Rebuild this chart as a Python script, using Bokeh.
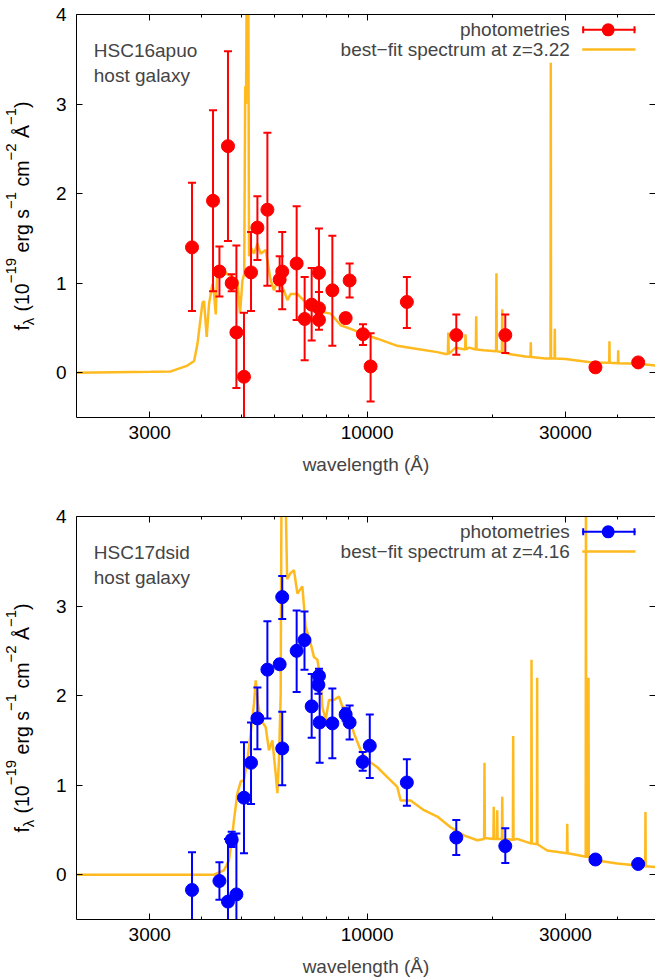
import math
from bokeh.plotting import figure
from bokeh.models import (LogAxis, LinearAxis, FixedTicker, Label, BoxAnnotation,
                          NumeralTickFormatter, ColumnDataSource, CustomLabelingPolicy)
from bokeh.core.properties import value
from bokeh.layouts import column, row
from bokeh.embed import file_html
from bokeh.resources import INLINE

# ---------------- data ----------------
# HSC16apuo: best-fit spectrum (wavelength in Angstrom, f_lambda in 1e-19 cgs)
spec1_w = [2000, 3018, 3371, 3698, 3836, 3908, 4018, 4053, 4114, 4167, 4246, 4284, 4325, 4365,
           4446, 4614, 4743, 4876, 4948, 5013, 5063, 5092, 5115, 5140, 5177, 5200, 5249, 5345,
           5447, 5546, 5702, 5757, 5864, 5971, 6084, 6310, 6430, 6548, 6798, 6924, 7184, 7594,
           8174, 8638, 9128, 9826, 10582, 11820, 13204, 14752, 15444, 15640, 15680, 15720, 16326,
           17210, 17250, 17290, 17572, 18260, 18300, 18340, 19092, 20430, 20470, 20510, 21100,
           21140, 21180, 21924, 24046, 24720, 24760, 24800, 26866, 27620, 27660, 27700, 28240,
           28280, 28320, 30020, 34788, 38230, 38280, 38330, 40130, 40180, 40230, 45024, 49400]
spec1_f = [0.0, 0.01, 0.015, 0.08, 0.13, 0.32, 0.78, 0.80, 0.40, 0.77, 0.99, 0.88, 0.65, 1.18,
           1.16, 1.10, 1.07, 1.03, 0.66, 1.03, 1.10, 3.20, 3.00, 4.80, 4.80, 1.30, 1.40, 1.33,
           1.44, 1.33, 1.37, 1.25, 1.03, 0.92, 1.03, 0.92, 0.81, 0.88, 0.88, 0.84, 0.77, 0.69,
           0.66, 0.53, 0.49, 0.43, 0.38, 0.30, 0.265, 0.23, 0.21, 0.21, 0.45, 0.21, 0.28,
           0.26, 0.43, 0.26, 0.28, 0.26, 0.63, 0.26, 0.25, 0.24, 1.11, 0.24, 0.23,
           0.71, 0.23, 0.21, 0.18, 0.175, 0.34, 0.175, 0.16, 0.16, 3.46, 0.16, 0.16,
           0.49, 0.16, 0.153, 0.115, 0.11, 0.35, 0.11, 0.105, 0.25, 0.105, 0.10, 0.08]

# HSC16apuo: photometry
phot1_w = [3792, 4260, 4414, 4628, 4724, 4849, 5057, 5258, 5447, 5757, 6162, 6250, 6770, 7076,
           7357, 7660, 7660, 7660, 8250, 8880, 9078, 9774, 10196, 12464, 16390, 21500, 35420, 44880]
phot1_f = [1.40, 1.92, 1.13, 2.53, 1.00, 0.45, -0.045, 1.12, 1.62, 1.82, 1.04, 1.13, 1.22, 0.60,
           0.76, 1.115, 0.72, 0.59, 0.92, 0.61, 1.03, 0.43, 0.07, 0.79, 0.42, 0.42, 0.06, 0.115]
phot1_lo = [0.69, 0.91, 0.85, 1.47, 0.91, -0.17, -0.76, 0.69, 1.26, 0.97, 0.91, 0.71, 0.59, 0.14,
            0.36, 0.58, 0.55, 0.48, 0.30, 0.56, 0.84, 0.31, -0.32, 0.50, 0.20, 0.22, 0.04, 0.09]
phot1_hi = [2.12, 2.93, 1.41, 3.59, 1.10, 1.42, 0.67, 1.57, 1.97, 2.68, 1.30, 1.57, 1.86, 1.07,
            1.17, 1.61, 0.90, 0.70, 1.53, 0.66, 1.22, 0.54, 0.44, 1.07, 0.65, 0.65, 0.08, 0.14]

# HSC17dsid: best-fit spectrum
spec2_w = [2000, 4284, 4528, 4654, 4724, 4784, 4876, 4966, 5057, 5153, 5249, 5345, 5396, 5466,
           5546, 5702, 5808, 5918, 6028, 6084, 6138, 6196, 6231, 6334, 6422, 6548, 6670, 6798,
           6987, 7114, 7317, 7452, 7594, 7734, 7806, 7950, 8096, 8322, 8556, 8718, 8962, 9296,
           9648, 10012, 10582, 11184, 11820, 12040, 12726, 13698, 14752, 15880, 17090, 18408,
           19120, 19160, 19200, 20130, 20170, 20210, 20520, 20560, 20600, 21100, 21140, 21180,
           22420, 22460, 22500, 22962, 24732, 24820, 24860, 24900, 25610, 25650, 25690, 27118,
           30250, 30300, 30350, 32016, 33560, 33610, 33660, 34040, 34090, 34140, 35768, 39960,
           46670, 46730, 46790, 49400]
spec2_f = [0.0, 0.0, 0.05, 0.16, 0.38, 0.61, 0.91, 1.04, 1.06, 1.28, 1.58, 1.91, 2.17, 1.91,
           1.73, 1.65, 1.39, 1.50, 1.13, 0.91, 1.28, 2.00, 4.80, 4.80, 3.30, 3.37, 3.40, 3.14,
           3.22, 2.77, 2.58, 2.43, 2.40, 2.17, 1.87, 1.73, 1.95, 1.95, 1.99, 1.88, 1.84, 1.58,
           1.39, 1.28, 1.20, 1.09, 0.98, 0.83, 0.83, 0.72, 0.65, 0.53, 0.44, 0.385,
           0.40, 1.25, 0.41, 0.40, 0.76, 0.40, 0.40, 0.72, 0.40, 0.40, 0.87, 0.40,
           0.39, 1.55, 0.39, 0.40, 0.35, 0.35, 2.40, 0.35, 0.34, 2.20, 0.34, 0.27,
           0.24, 0.57, 0.24, 0.22, 0.20, 4.80, 0.20, 0.20, 2.20, 0.20, 0.16, 0.125,
           0.095, 0.70, 0.095, 0.087]

# HSC17dsid: photometry
phot2_w = [3792, 4414, 4628, 4724, 4849, 5057, 5258, 5447, 5757, 6162, 6250, 6250, 6770, 7070,
           7357, 7636, 7660, 7690, 8250, 8880, 9078, 9760, 10150, 12464, 16390, 21500, 35420, 44880]
phot2_f = [-0.17, -0.07, -0.30, 0.39, -0.22, 0.86, 1.25, 1.745, 2.29, 2.35, 3.10, 1.41, 2.50, 2.62,
           1.88, 2.12, 2.22, 1.70, 1.69, 1.79, 1.70, 1.26, 1.44, 1.03, 0.415, 0.32, 0.17, 0.12]
phot2_lo = [-0.59, -0.28, -1.00, 0.31, -0.90, 0.24, 0.79, 1.40, 1.745, 2.30, 2.855, 1.00, 2.04, 2.29,
            1.53, 2.02, 2.14, 1.25, 1.30, 1.72, 1.51, 1.16, 1.08, 0.77, 0.22, 0.13, 0.15, 0.10]
phot2_hi = [0.25, 0.14, 0.40, 0.48, 0.46, 1.48, 1.70, 2.09, 2.83, 2.40, 3.335, 1.82, 2.95, 2.94,
            2.24, 2.22, 2.30, 2.15, 2.08, 1.86, 1.89, 1.37, 1.79, 1.29, 0.61, 0.52, 0.19, 0.14]

x_major_ticks = [3000, 10000, 30000]
x_minor_ticks = [4000, 5000, 6000, 7000, 8000, 9000, 20000, 40000]
y_major_ticks = [0, 1, 2, 3, 4]

# ---------------- style ----------------
FONT = "Liberation Sans"
FS = "19px"
SPEC_COLOR = "#FFBA20"
FRAME_H = 403
TOP = 14
LABEL_W = 40          # width of the strip that holds the rotated y label
MAIN_W = 655 - LABEL_W
LEFT = 76 - LABEL_W   # left border of the main plot

# widths (em) used for composing the rotated y label
CHAR_W = {'f': 0.278, 'λ': 0.55, ' ': 0.278, '(': 0.333, ')': 0.333, '0': 0.556, '1': 0.556,
          '2': 0.556, '9': 0.556, '−': 0.584, 'e': 0.556, 'r': 0.333, 'g': 0.556, 's': 0.5,
          'c': 0.5, 'm': 0.833, 'Å': 0.667}
MAIN_PX = 19.5
SCRIPT_PX = 15.0
YLABEL_PIECES = [("f", "main"), ("λ", "sub"), (" (10", "main"), ("−19", "sup"),
                 (" erg s", "main"), ("−1", "sup"), (" cm", "main"), ("−2", "sup"),
                 (" Å", "main"), ("−1", "sup"), (")", "main")]
# horizontal centre line (px from the strip's left edge) of each kind of piece
PIECE_X = {"main": 21.5, "sup": 10.5, "sub": 28.0}

HIDE_LABELS = "for (const i of Array.from(indices)) indices.unset(i)"


def style_axis(ax, ticker, labels=True):
    ax.ticker = ticker
    ax.major_tick_in = 6
    ax.major_tick_out = 0
    ax.minor_tick_in = 3
    ax.minor_tick_out = 0
    ax.axis_line_color = "black"
    ax.axis_line_width = 1
    ax.major_tick_line_color = "black"
    ax.minor_tick_line_color = "black"
    ax.major_label_text_font = FONT
    ax.major_label_text_color = "black"
    ax.major_label_text_font_size = FS
    if not labels:
        ax.major_label_text_font_size = "0px"
        ax.major_label_standoff = 0
        ax.major_label_policy = CustomLabelingPolicy(code=HIDE_LABELS)


def ylabel_strip(bottom):
    # strip with the same frame geometry as the main plot; y in frame pixels
    s = figure(frame_width=LABEL_W, frame_height=FRAME_H, title=None,
               x_range=(0, LABEL_W), y_range=(0, FRAME_H),
               output_backend="svg", toolbar_location=None, x_axis_location=None,
               y_axis_location=None, min_border=0, min_border_left=0, min_border_right=0,
               min_border_top=TOP, min_border_bottom=bottom)
    s.outline_line_color = None
    s.xgrid.visible = False
    s.ygrid.visible = False
    s.background_fill_color = "white"
    s.border_fill_color = "white"
    total = 0.0
    for txt, kind in YLABEL_PIECES:
        px = MAIN_PX if kind == "main" else SCRIPT_PX
        total += sum(CHAR_W[c] for c in txt) * px
    pos = (FRAME_H - total) / 2.0
    groups = {}
    for txt, kind in YLABEL_PIECES:
        px = MAIN_PX if kind == "main" else SCRIPT_PX
        lead = len(txt) - len(txt.lstrip(" "))
        pos += lead * CHAR_W[' '] * px
        body = txt.lstrip(" ")
        g = groups.setdefault(kind, dict(x=[], y=[], t=[]))
        g["x"].append(PIECE_X[kind])
        g["y"].append(pos)
        g["t"].append(body)
        pos += sum(CHAR_W[c] for c in body) * px
    for kind, g in groups.items():
        px = MAIN_PX if kind == "main" else SCRIPT_PX
        s.text(x=g["x"], y=g["y"], text=g["t"], angle=math.pi / 2, text_align="left",
               text_baseline="middle", text_font=value(FONT),
               text_font_size=value(f"{px}px"), text_color="black")
    return s


def build(name, zlabel, color, sw, sf, pw, pf, plo, phi, height, bottom):
    p = figure(width=MAIN_W, height=height, x_axis_type="log", x_range=(2000, 49400),
               y_range=(-0.5, 4.0), output_backend="svg", toolbar_location=None, title=None,
               min_border_left=LEFT, min_border_right=0, min_border_top=TOP,
               min_border_bottom=bottom)
    p.outline_line_color = None
    p.xgrid.visible = False
    p.ygrid.visible = False
    p.background_fill_color = "white"
    p.border_fill_color = "white"

    xb = p.below[0]
    yl = p.left[0]
    style_axis(xb, FixedTicker(ticks=x_major_ticks, minor_ticks=x_minor_ticks))
    xb.formatter = NumeralTickFormatter(format="0")
    xb.major_label_standoff = 8
    xb.axis_label = "wavelength (Å)"
    xb.axis_label_text_font = FONT
    xb.axis_label_text_font_size = FS
    xb.axis_label_text_font_style = "normal"
    xb.axis_label_standoff = 12
    style_axis(yl, FixedTicker(ticks=y_major_ticks, minor_ticks=[]))
    yl.major_label_standoff = 10

    xt = LogAxis()
    style_axis(xt, FixedTicker(ticks=x_major_ticks, minor_ticks=x_minor_ticks), labels=False)
    p.add_layout(xt, "above")
    yr = LinearAxis()
    style_axis(yr, FixedTicker(ticks=y_major_ticks, minor_ticks=[]), labels=False)
    yr.axis_line_color = None
    p.add_layout(yr, "right")

    # spectrum
    p.line(sw, sf, line_color=SPEC_COLOR, line_width=2.5)

    # photometry with error bars
    src = ColumnDataSource(dict(w=pw, f=pf, lo=plo, hi=phi))
    p.segment(x0="w", y0="lo", x1="w", y1="hi", source=src, line_color=color, line_width=2)
    p.scatter(x="w", y="lo", source=src, marker="dash", size=8, line_color=color, line_width=2)
    p.scatter(x="w", y="hi", source=src, marker="dash", size=8, line_color=color, line_width=2)
    p.scatter(x="w", y="f", source=src, marker="circle", size=13, fill_color=color,
              line_color=color)

    # object name
    p.add_layout(Label(x=17.3, y=FRAME_H - 36.0, x_units="screen", y_units="screen", text=name,
                       text_font=FONT, text_font_size=FS, text_baseline="middle"))
    p.add_layout(Label(x=17.3, y=FRAME_H - 61.0, x_units="screen", y_units="screen",
                       text="host galaxy", text_font=FONT, text_font_size=FS,
                       text_baseline="middle"))

    # legend (gnuplot style: text left of the sample)
    y1 = FRAME_H - 15.3
    y2 = FRAME_H - 35.0
    for txt, yy in (("photometries", y1), (zlabel, y2)):
        p.add_layout(Label(x=493.3, y=yy, x_units="screen", y_units="screen", text=txt,
                           text_align="right", text_baseline="middle",
                           text_font=FONT, text_font_size=FS))
    sx0, sx1, scx = 505.7, 559.0, 531.7

    def box(l, r, b, t, c, radius=0):
        p.add_layout(BoxAnnotation(left=l, right=r, bottom=b, top=t, left_units="screen",
                                   right_units="screen", bottom_units="screen",
                                   top_units="screen", fill_color=c, fill_alpha=1.0,
                                   line_color=None, border_radius=radius))
    box(sx0, sx1, y1 - 1, y1 + 1, color)
    box(sx0, sx0 + 2, y1 - 3.5, y1 + 3.5, color)
    box(sx1 - 2, sx1, y1 - 3.5, y1 + 3.5, color)
    box(scx - 6.5, scx + 6.5, y1 - 6.5, y1 + 6.5, color, radius=7)
    box(sx0, sx1, y2 - 1.25, y2 + 1.25, SPEC_COLOR)
    return p


p1 = build("HSC16apuo", "best−fit spectrum at z=3.22", "#FF0000", spec1_w, spec1_f,
           phot1_w, phot1_f, phot1_lo, phot1_hi, height=502, bottom=85)
p2 = build("HSC17dsid", "best−fit spectrum at z=4.16", "#0000FF", spec2_w, spec2_f,
           phot2_w, phot2_f, phot2_lo, phot2_hi, height=477, bottom=60)
s1 = ylabel_strip(85)
s2 = ylabel_strip(60)

layout = column(row(s1, p1, spacing=0), row(s2, p2, spacing=0), spacing=0)
open("out.html", "w").write(file_html(layout, INLINE))
